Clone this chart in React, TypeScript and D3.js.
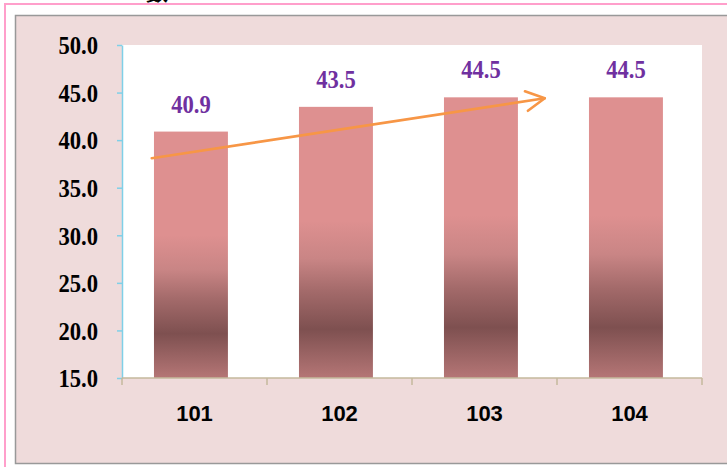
import React, { useRef, useEffect } from "react";
import * as d3 from "d3";

const categories = ["101", "102", "103", "104"];
const values = [40.9, 43.5, 44.5, 44.5];
const yTicks = [15, 20, 25, 30, 35, 40, 45, 50];
// trend arrow in data units: [category index, value]
const arrowFrom: [number, number] = [-0.27, 38.1];
const arrowTo: [number, number] = [2.44, 44.4];

const W = 727;
const H = 467;

export default function App() {
  const svgRef = useRef<SVGSVGElement>(null);

  useEffect(() => {
    if (!svgRef.current) return;
    const svg = d3.select(svgRef.current);
    svg.selectAll("*").remove();

    const plot = { left: 122, right: 702, top: 45, bottom: 378 };

    // outer pink frame
    svg.append("rect").attr("width", W).attr("height", H).attr("fill", "#fff");
    svg
      .append("path")
      .attr("d", `M5,${H + 2} V4 H${W + 2}`)
      .attr("fill", "none")
      .attr("stroke", "#ff9fcb")
      .attr("stroke-width", 2);

    // cut-off title fragment at the very top (as in the source image)
    svg
      .append("text")
      .attr("x", 157)
      .attr("y", 0)
      .attr("text-anchor", "middle")
      .attr("font-family", "'Noto Sans CJK TC', sans-serif")
      .attr("font-weight", "bold")
      .attr("font-size", 22)
      .attr("fill", "#000")
      .text("數");

    // chart area
    svg
      .append("rect")
      .attr("x", 15.5)
      .attr("y", 15.5)
      .attr("width", W + 10)
      .attr("height", 448)
      .attr("fill", "#efdbdb")
      .attr("stroke", "#999")
      .attr("stroke-width", 1.5);

    svg
      .append("rect")
      .attr("x", plot.left)
      .attr("y", plot.top)
      .attr("width", plot.right - plot.left)
      .attr("height", plot.bottom - plot.top)
      .attr("fill", "#fff");

    const x = d3
      .scaleBand<string>()
      .domain(categories)
      .range([plot.left, plot.right])
      .paddingInner(0.49)
      .paddingOuter(0.245)
      .align(0.45);

    // category slots (for axis labels and ticks)
    const slot = d3.scaleBand<string>().domain(categories).range([plot.left, plot.right]);

    const y = d3.scaleLinear().domain([15, 50]).range([plot.bottom, plot.top]);

    const xi = d3
      .scaleLinear()
      .domain([0, categories.length - 1])
      .range([
        x(categories[0])! + x.bandwidth() / 2,
        x(categories[categories.length - 1])! + x.bandwidth() / 2,
      ]);

    // bar gradient (per bar)
    const defs = svg.append("defs");
    const grad = defs
      .append("linearGradient")
      .attr("id", "barGrad")
      .attr("x1", 0)
      .attr("y1", 0)
      .attr("x2", 0)
      .attr("y2", 1);
    [
      [0, "#de9090"],
      [0.42, "#de9090"],
      [0.56, "#c98585"],
      [0.68, "#a36a6a"],
      [0.82, "#7e5050"],
      [1, "#b57676"],
    ].forEach(([o, c]) =>
      grad.append("stop").attr("offset", o as number).attr("stop-color", c as string)
    );

    const data = categories.map((c, i) => ({ c, v: values[i] }));

    svg
      .selectAll(".bar")
      .data(data)
      .join("rect")
      .attr("class", "bar")
      .attr("x", (d) => x(d.c)!)
      .attr("y", (d) => y(d.v))
      .attr("width", x.bandwidth())
      .attr("height", (d) => y(15) - y(d.v))
      .attr("fill", "url(#barGrad)");

    // value labels
    const sx = 0.87;
    svg
      .selectAll(".val")
      .data(data)
      .join("text")
      .attr("class", "val")
      .attr(
        "transform",
        (d) => `translate(${x(d.c)! + x.bandwidth() / 2},${y(d.v) - 19}) scale(${sx},1)`
      )
      .attr("text-anchor", "middle")
      .attr("font-family", "'Liberation Serif', serif")
      .attr("font-weight", "bold")
      .attr("font-size", 26)
      .attr("fill", "#7030a0")
      .text((d) => d.v.toFixed(1));

    // y axis
    const yAxis = svg
      .append("g")
      .attr("transform", `translate(${plot.left},0)`)
      .call(
        d3
          .axisLeft(y)
          .tickValues(yTicks)
          .tickSizeInner(5)
          .tickSizeOuter(0)
          .tickFormat((d) => (d as number).toFixed(1))
      );
    yAxis.select(".domain").attr("stroke", "#7fd0e8").attr("stroke-width", 1.5);
    yAxis.selectAll(".tick line").attr("stroke", "#7fd0e8").attr("stroke-width", 1.5);
    yAxis
      .selectAll(".tick text")
      .attr("x", -24 / sx)
      .attr("dy", "0.34em")
      .attr("transform", `scale(${sx},1)`)
      .attr("font-family", "'Liberation Serif', serif")
      .attr("font-weight", "bold")
      .attr("font-size", 26)
      .attr("fill", "#000");

    // x axis, ticks between categories
    const boundaries = categories.map((c) => slot(c)!).concat([plot.right]);
    const xAxis = svg.append("g");
    xAxis
      .append("line")
      .attr("x1", plot.left)
      .attr("x2", plot.right)
      .attr("y1", plot.bottom)
      .attr("y2", plot.bottom)
      .attr("stroke", "#c4b89c")
      .attr("stroke-width", 1.5);
    xAxis
      .selectAll(".xt")
      .data(boundaries)
      .join("line")
      .attr("x1", (d) => d)
      .attr("x2", (d) => d)
      .attr("y1", plot.bottom)
      .attr("y2", plot.bottom + 7)
      .attr("stroke", "#c4b89c")
      .attr("stroke-width", 1.5);
    xAxis
      .selectAll(".xl")
      .data(categories)
      .join("text")
      .attr("x", (d) => slot(d)! + slot.bandwidth() / 2)
      .attr("y", 421)
      .attr("text-anchor", "middle")
      .attr("font-family", "'Liberation Sans', Arial, sans-serif")
      .attr("font-weight", "bold")
      .attr("font-size", 22)
      .attr("fill", "#000")
      .text((d) => d);

    // trend arrow
    const x0 = xi(arrowFrom[0]);
    const y0 = y(arrowFrom[1]);
    const x1 = xi(arrowTo[0]);
    const y1 = y(arrowTo[1]);
    const ang = Math.atan2(y1 - y0, x1 - x0);
    const headLen = 21;
    const spread = (28 * Math.PI) / 180;
    const arrow = svg
      .append("g")
      .attr("fill", "none")
      .attr("stroke", "#f79646")
      .attr("stroke-width", 2.6)
      .attr("stroke-linecap", "round")
      .attr("stroke-linejoin", "round");
    arrow
      .append("line")
      .attr("x1", x0)
      .attr("y1", y0)
      .attr("x2", x1)
      .attr("y2", y1);
    arrow
      .append("path")
      .attr(
        "d",
        `M${x1 - headLen * Math.cos(ang - spread)},${y1 - headLen * Math.sin(ang - spread)} L${x1},${y1} L${
          x1 - headLen * Math.cos(ang + spread)
        },${y1 - headLen * Math.sin(ang + spread)}`
      );
  }, []);

  return (
    <svg
      ref={svgRef}
      width={W}
      height={H}
      style={{ position: "absolute", left: 0, top: 0, display: "block" }}
    ></svg>
  );
}
